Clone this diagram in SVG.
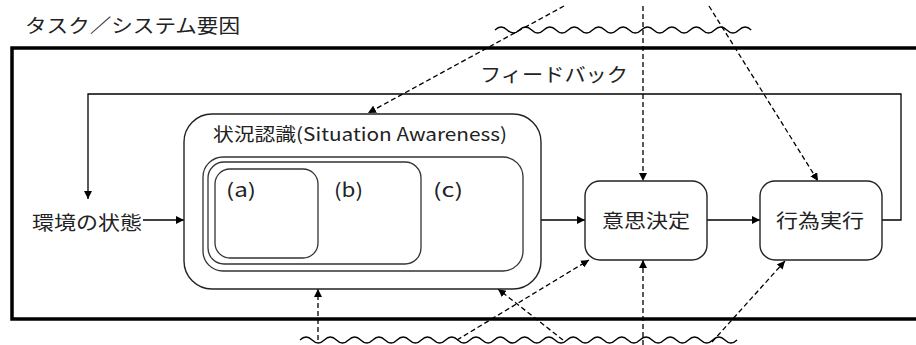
<svg xmlns="http://www.w3.org/2000/svg" width="916" height="345" viewBox="0 0 916 345">
<style>
text{font-family:"Noto Sans CJK JP","Noto Sans",sans-serif;fill:#222;}
.jp{font-size:19px;}
.box{fill:#fff;stroke:#222;stroke-width:1.4;}
.inner{fill:none;stroke:#333;stroke-width:1.3;}
.line{fill:none;stroke:#000;stroke-width:1.3;}
.dash{fill:none;stroke:#000;stroke-width:1.3;stroke-dasharray:5 3;}
.wave{fill:none;stroke:#000;stroke-width:1.3;}
</style>
<defs>
<marker id="ah" viewBox="0 0 10 10" refX="10" refY="5" markerWidth="8" markerHeight="8" markerUnits="userSpaceOnUse" orient="auto">
<path d="M0,0 L10,5 L0,10 z" fill="#000"/>
</marker>
</defs>
<rect width="916" height="345" fill="#fff"/>
<text class="jp" x="25" y="33" textLength="215" lengthAdjust="spacingAndGlyphs">タスク／システム要因</text>
<rect x="12" y="48" width="912" height="271" fill="none" stroke="#000" stroke-width="3.5"/>
<g id="waves">
<path class="wave" d="M495,30 q6.1,-6 12.2,0 t12.2,0 t12.2,0 t12.2,0 t12.2,0 t12.2,0 t12.2,0 t12.2,0 t12.2,0 t12.2,0 t12.2,0 t12.2,0 t12.2,0 t12.2,0 t12.2,0 t12.2,0 t12.2,0 t12.2,0 t12.2,0 t12.2,0 t12.2,0"/>
<path class="wave" d="M300,340 q6.07,-6 12.14,0 t12.14,0 t12.14,0 t12.14,0 t12.14,0 t12.14,0 t12.14,0 t12.14,0 t12.14,0 t12.14,0 t12.14,0 t12.14,0 t12.14,0 t12.14,0 t12.14,0 t12.14,0 t12.14,0 t12.14,0 t12.14,0 t12.14,0 t12.14,0 t12.14,0 t12.14,0 t12.14,0 t12.14,0 t12.14,0 t12.14,0 t12.14,0 t12.14,0 t12.14,0 t12.14,0 t12.14,0 t12.14,0 t12.14,0 t12.14,0 t12.14,0"/>
</g>
<g id="connectors">
<path class="line" d="M881,220 H901 V94 H88 V199" marker-end="url(#ah)"/>
<path class="line" d="M143,220 H184" marker-end="url(#ah)"/>
<path class="line" d="M541,220 H585" marker-end="url(#ah)"/>
<path class="line" d="M707,220 H760" marker-end="url(#ah)"/>
<path class="dash" d="M564,6 L368,113" marker-end="url(#ah)"/>
<path class="dash" d="M643,6 V181" marker-end="url(#ah)"/>
<path class="dash" d="M709,6 L818,181" marker-end="url(#ah)"/>
<path class="dash" d="M318,340 V289" marker-end="url(#ah)"/>
<path class="dash" d="M563,340 L498,289" marker-end="url(#ah)"/>
<path class="dash" d="M457,340 L589,260" marker-end="url(#ah)"/>
<path class="dash" d="M643,345 V260" marker-end="url(#ah)"/>
<path class="dash" d="M712,342 L785,261" marker-end="url(#ah)"/>
</g>
<text class="jp" x="480" y="82" textLength="148" lengthAdjust="spacingAndGlyphs">フィードバック</text>
<g id="env">
<text class="jp" x="32" y="230" textLength="110" lengthAdjust="spacingAndGlyphs">環境の状態</text>
</g>
<g id="sa">
<rect class="box" x="184" y="114" width="357" height="175" rx="28"/>
<text x="213" y="141" font-size="18" textLength="294" lengthAdjust="spacingAndGlyphs">状況認識(Situation Awareness)</text>
<rect class="inner" x="203" y="157" width="320" height="114" rx="20"/>
<rect class="inner" x="208" y="162" width="213" height="102" rx="16"/>
<rect class="inner" x="215" y="169" width="103" height="89" rx="15"/>
<text x="226" y="197" font-size="19" textLength="30" lengthAdjust="spacingAndGlyphs">(a)</text>
<text x="334" y="197" font-size="19" textLength="29" lengthAdjust="spacingAndGlyphs">(b)</text>
<text x="433" y="197" font-size="19" textLength="30" lengthAdjust="spacingAndGlyphs">(c)</text>
</g>
<g id="decision">
<rect class="box" x="585" y="181" width="122" height="79" rx="15"/>
<text class="jp" x="602" y="228" textLength="88" lengthAdjust="spacingAndGlyphs">意思決定</text>
</g>
<g id="action">
<rect class="box" x="760" y="181" width="122" height="79" rx="15"/>
<text class="jp" x="776" y="228" textLength="88" lengthAdjust="spacingAndGlyphs">行為実行</text>
</g>
</svg>
